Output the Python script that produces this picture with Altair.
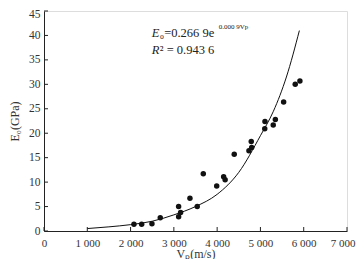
import altair as alt
import pandas as pd

# Measured points
vp = [2078, 2256, 2494, 2686, 3110, 3110, 3156, 3372, 3540, 3680, 3990, 4150,
      4185, 4395, 4735, 4798, 4788, 5100, 5105, 5296, 5345, 5536, 5804, 5912]
e0 = [1.4, 1.4, 1.5, 2.7, 2.9, 5.0, 3.8, 6.7, 5.0, 11.7, 9.2, 11.1,
      10.5, 15.7, 16.4, 17.1, 18.3, 20.9, 22.4, 21.7, 22.8, 26.4, 30.0, 30.7]

# Fitted curve
curve_vp = [1000, 1500, 2000, 2500, 3000, 3500, 4000, 4500, 5000, 5300, 5600, 5900]
curve_e0 = [0.5, 0.85, 1.3, 2.0, 3.3, 5.0, 7.5, 12.0, 19.5, 24.5, 31.5, 41.0]

x_ticks = [0, 1000, 2000, 3000, 4000, 5000, 6000, 7000]
y_ticks = [0, 5, 10, 15, 20, 25, 30, 35, 40, 45]

eq_main = "₀=0.266 9e"
eq_sup = "0.000 9Vp"
r2_text = "² = 0.943 6"

FONT = "Liberation Serif"
W, H = 303, 220

pts = pd.DataFrame({"vp": vp, "e0": e0})
crv = pd.DataFrame({"vp": curve_vp, "e0": curve_e0})
xt = pd.DataFrame({"t": x_ticks})
yt = pd.DataFrame({"t": y_ticks})

xscale = alt.Scale(domain=[0, 7000], nice=False)
yscale = alt.Scale(domain=[0, 45], nice=False)

xaxis = alt.Axis(values=x_ticks, ticks=False, grid=False, domainColor="#222",
                 labelFont=FONT, labelFontSize=11, labelColor="#333", labelPadding=6,
                 labelExpr="replace(format(datum.value, ',d'), ',', ' ')",
                 labelOverlap=False, labelFlush=False, labelBound=False,
                 labelAlign={"condition": {"test": "datum.value == 7000", "value": "right"},
                             "value": "center"},
                 labelOffset={"condition": {"test": "datum.value == 7000", "value": 8},
                              "value": 0},
                 title="Vₚ(m/s)", titleFont=FONT, titleFontSize=12, titleFontWeight="normal",
                 titleColor="#333", titleBaseline="alphabetic", titleY=26)
yaxis = alt.Axis(values=y_ticks, ticks=False, grid=False, domainColor="#222",
                 labelFont=FONT, labelFontSize=11.5, labelColor="#333", labelPadding=4,
                 labelOverlap=False, labelFlush=False, labelBound=False,
                 labelOffset={"condition": {"test": "datum.value == 45", "value": 3},
                              "value": 0},
                 title="E₀(GPa)", titleFont=FONT, titleFontSize=12, titleFontWeight="normal",
                 titleColor="#333", titleX=-23, titleY=110, titleAngle=-90)


def X(field):
    return alt.X(field, type="quantitative", scale=xscale, axis=xaxis)


def Y(field):
    return alt.Y(field, type="quantitative", scale=yscale, axis=yaxis)


points = alt.Chart(pts).mark_circle(size=30, color="#111", opacity=1).encode(
    x=X("vp"), y=Y("e0"))

line = alt.Chart(crv).mark_line(color="#111", strokeWidth=1, interpolate="monotone").encode(
    x=X("vp"), y=Y("e0"))

xticks = alt.Chart(xt).mark_rule(color="#222", strokeWidth=1).encode(
    x=X("t"), y=alt.value(H - 4), y2=alt.value(H))
yticks = alt.Chart(yt).mark_rule(color="#222", strokeWidth=1).encode(
    y=Y("t"), x=alt.value(0), x2=alt.value(4))

ann = pd.DataFrame({"x": [2490], "y": [40.6], "x2": [2490], "y2": [37.0]})
e_it = alt.Chart(ann).mark_text(font=FONT, fontSize=12.5, fontStyle="italic", align="left",
                                baseline="middle", color="#222").encode(
    x=X("x"), y=Y("y"), text=alt.value("E"))
e_rest = alt.Chart(ann).mark_text(font=FONT, fontSize=12.5, align="left", dx=8,
                                  baseline="middle", color="#222").encode(
    x=X("x"), y=Y("y"), text=alt.value(eq_main))
e_sup = alt.Chart(ann).mark_text(font=FONT, fontSize=7, align="left", dx=67, dy=-6,
                                 baseline="middle", color="#222").encode(
    x=X("x"), y=Y("y"), text=alt.value(eq_sup))
r_it = alt.Chart(ann).mark_text(font=FONT, fontSize=12.5, fontStyle="italic", align="left",
                                baseline="middle", color="#222").encode(
    x=X("x2"), y=Y("y2"), text=alt.value("R"))
r_rest = alt.Chart(ann).mark_text(font=FONT, fontSize=12.5, align="left", dx=8,
                                  baseline="middle", color="#222").encode(
    x=X("x2"), y=Y("y2"), text=alt.value(r2_text))

chart = alt.layer(points, line, xticks, yticks, e_it, e_rest, e_sup, r_it, r_rest).properties(
    width=W, height=H,
    autosize=alt.AutoSizeParams(type="none"),
    padding={"left": 36, "top": 3, "right": 9, "bottom": 28},
).configure_view(stroke=None).configure_axis(labelOverlap=False).configure(background="white")

chart.save("out.html", embed_options={"renderer": "svg", "actions": False})
